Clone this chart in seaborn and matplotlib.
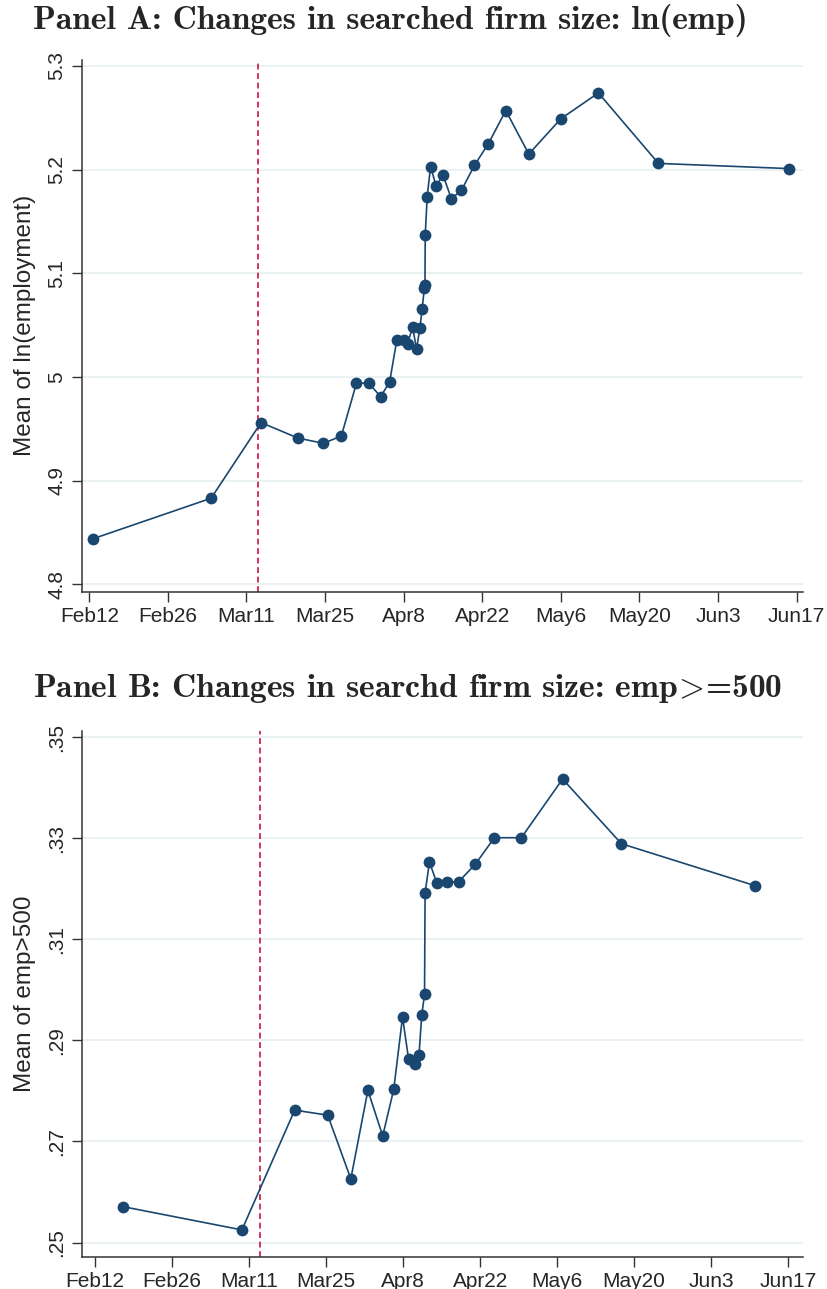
import matplotlib
matplotlib.use("Agg")
import matplotlib.pyplot as plt
import seaborn as sns
import pandas as pd

# x values are days since Feb 12, 2020
days_a = [0.7, 21.7, 30.6, 37.2, 41.7, 44.9, 47.6, 49.8, 51.9, 53.5, 54.8, 56.1,
          56.7, 57.6, 58.3, 58.9, 59.3, 59.7, 59.8, 59.85, 60.2, 60.8, 61.8, 63.0,
          64.5, 66.3, 68.6, 71.1, 74.2, 78.3, 84.0, 90.7, 101.4, 124.6]
lnemp_a = [4.844, 4.883, 4.956, 4.941, 4.936, 4.943, 4.994, 4.994, 4.981, 4.995,
           5.036, 5.036, 5.032, 5.048, 5.027, 5.047, 5.066, 5.086, 5.089, 5.137,
           5.174, 5.203, 5.184, 5.195, 5.172, 5.180, 5.204, 5.225, 5.257, 5.215,
           5.249, 5.274, 5.206, 5.201]

days_b = [5.1, 26.7, 36.3, 42.3, 46.5, 49.6, 52.3, 54.3, 55.9, 57.0, 58.1, 58.9,
          59.4, 59.9, 60.0, 60.8, 62.1, 63.9, 66.1, 69.1, 72.6, 77.5, 85.0, 95.7,
          120.0]
share_b = [0.2571, 0.2525, 0.2762, 0.2752, 0.2626, 0.2801, 0.2711, 0.2803, 0.2946,
           0.2863, 0.2854, 0.2872, 0.2951, 0.2991, 0.3192, 0.3253, 0.3212, 0.3213,
           0.3214, 0.3248, 0.3301, 0.3301, 0.3417, 0.3289, 0.3206]

tick_days = [0, 14, 28, 42, 56, 70, 84, 98, 112, 126]
tick_labels = ['Feb12', 'Feb26', 'Mar11', 'Mar25', 'Apr8', 'Apr22', 'May6',
               'May20', 'Jun3', 'Jun17']
event_day = 30  # Mar 13

yticks_a = [4.8, 4.9, 5.0, 5.1, 5.2, 5.3]
ylabels_a = ['4.8', '4.9', '5', '5.1', '5.2', '5.3']
yticks_b = [0.25, 0.27, 0.29, 0.31, 0.33, 0.35]
ylabels_b = ['.25', '.27', '.29', '.31', '.33', '.35']

NAVY = '#1a476f'
RED = '#c8143c'

sns.set_style("white")
plt.rcParams['font.family'] = ['Liberation Sans', 'DejaVu Sans']
plt.rcParams['mathtext.fontset'] = 'cm'


def draw_panel(ax, x, y, xlim, ylim, yticks, ylabels, ylabel):
    df = pd.DataFrame({'day': x, 'val': y})
    ax.set_axisbelow(True)
    ax.yaxis.grid(True, color='#e8f0f2', linewidth=1.3)
    ax.xaxis.grid(False)
    ax.axvline(event_day, color=RED, linestyle=(0, (3.5, 2.2)), linewidth=1.2, zorder=1)
    sns.lineplot(data=df, x='day', y='val', ax=ax, sort=False, color=NAVY,
                 linewidth=1.2, marker='o', markersize=8.5, markeredgewidth=0,
                 zorder=3)
    ax.set_xlim(*xlim)
    ax.set_ylim(*ylim)
    ax.set_xticks(tick_days)
    ax.set_xticklabels(tick_labels)
    ax.set_yticks(yticks)
    ax.set_yticklabels(ylabels, rotation=90, va='center')
    ax.set_xlabel('')
    ax.set_ylabel(ylabel, fontsize=17.5, labelpad=8)
    ax.tick_params(axis='both', direction='out', length=7, width=1,
                   color='#333333', labelsize=15, pad=4, left=True, bottom=True)
    for side in ['top', 'right']:
        ax.spines[side].set_visible(False)
    for side in ['left', 'bottom']:
        ax.spines[side].set_color('#333333')
        ax.spines[side].set_linewidth(1.1)


fig = plt.figure(figsize=(8.28, 12.89), dpi=100)
ax_a = fig.add_axes([0.0987, 0.5410, 0.8711, 0.4125])
ax_b = fig.add_axes([0.0987, 0.02506, 0.8711, 0.4078])

draw_panel(ax_a, days_a, lnemp_a, (-1.35, 127.15), (4.7929, 5.3058),
           yticks_a, ylabels_a, 'Mean of ln(employment)')
draw_panel(ax_b, days_b, share_b, (-2.42, 128.7), (0.2472, 0.3512),
           yticks_b, ylabels_b, 'Mean of emp>500')

title_font = dict(family=['cmb10', 'DejaVu Serif'], fontsize=24.2,
                  va='baseline', ha='left')
fig.text(33 / 828, 1 - 29 / 1289, 'Panel A: Changes in searched firm size: ln(emp)',
         **title_font)
fig.text(33 / 828, 1 - 697 / 1289,
         r'Panel B: Changes in searchd firm size: emp$\!>\!$=500', **title_font)

fig.savefig('out.png', dpi=100)
